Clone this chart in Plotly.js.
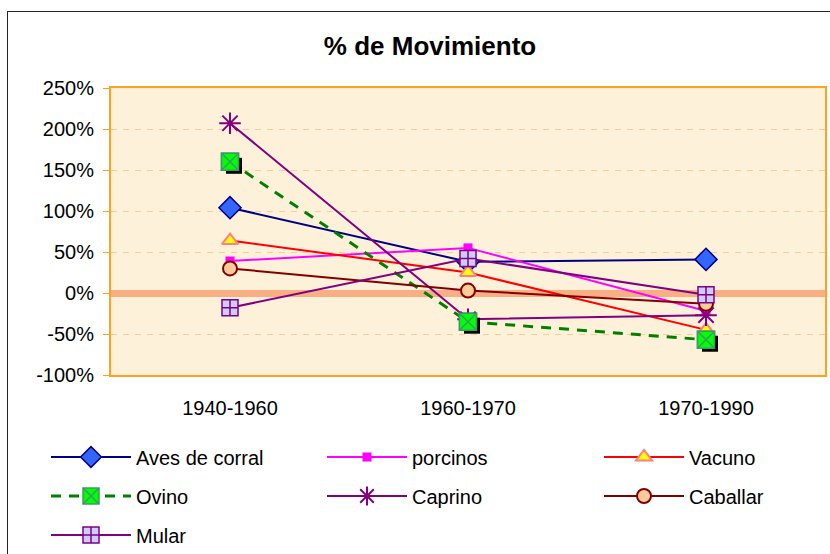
<!DOCTYPE html>
<html>
<head>
<meta charset="utf-8">
<script src="https://cdn.plot.ly/plotly-3.0.1.min.js"></script>
<style>
  html, body { margin: 0; padding: 0; background: #fff; }
  #wrap { position: relative; width: 830px; height: 554px; overflow: hidden; }
  #chart { position: absolute; left: 0; top: 0; width: 830px; height: 554px; }
  #frame { position: absolute; left: 7px; top: 11px; width: 900px; height: 600px;
           border-left: 1.5px solid #222; border-top: 1.5px solid #222; pointer-events: none; }
</style>
</head>
<body>
<div id="wrap"><div id="chart"></div><div id="frame"></div></div>
<script>
const categories = ["1940-1960", "1960-1970", "1970-1990"];
const aves     = [104, 38, 41];
const porcinos = [39, 55, -22];
const vacuno   = [64, 25, -45];
const ovino    = [160, -35, -57];
const caprino  = [207, -32, -27];
const caballar = [30, 3, -13];
const mular    = [-18, 42, -2];
const yTickVals = [-100, -50, 0, 50, 100, 150, 200, 250];
const yTickText = ["-100%", "-50%", "0%", "50%", "100%", "150%", "200%", "250%"];

const FONT = "Liberation Sans, Arial, sans-serif";

// pixel geometry of the plot area
const plotW = 714, plotH = 287.5;
const catPx = plotW / 3;
const pctPx = plotH / 350;
const shX = 4 / catPx, shY = 4 / pctPx;

function tr(name, y, opts, legend) {
  return Object.assign({
    type: 'scatter', mode: 'lines+markers', name: name, x: categories, y: y,
    legend: legend, cliponaxis: false
  }, opts);
}

const ovinoMarker = { symbol: 'square-x', size: 17, color: '#00FF00', line: { color: '#3C9A6A', width: 1.5 } };

const traces = [
  tr('Aves de corral', aves, {
    line: { color: '#000080', width: 2 },
    marker: { symbol: 'diamond', size: 17, color: '#3366FF', line: { color: '#000080', width: 1.5 } }
  }, 'legend'),
  tr('porcinos', porcinos, {
    line: { color: '#FF00FF', width: 2 },
    marker: { symbol: 'square', size: 9, color: '#FF00FF', line: { width: 0 } }
  }, 'legend2'),
  tr('Vacuno', vacuno, {
    line: { color: '#FF0000', width: 2 },
    marker: { symbol: 'triangle-up', size: 14, color: '#FFFF00', line: { color: '#FF8080', width: 2 } }
  }, 'legend3'),
  tr('Ovino', ovino, {
    line: { color: '#008000', width: 3, dash: '10px,8px' },
    marker: ovinoMarker
  }, 'legend4'),
  tr('Caprino', caprino, {
    line: { color: '#800080', width: 2 },
    marker: { symbol: 'asterisk-open', size: 18, color: '#800080', line: { color: '#800080', width: 2 } }
  }, 'legend5'),
  tr('Caballar', caballar, {
    line: { color: '#800000', width: 2 },
    marker: { symbol: 'circle', size: 14, color: '#FFCC99', line: { color: '#800000', width: 2 } }
  }, 'legend6'),
  tr('Mular', mular, {
    line: { color: '#800080', width: 2 },
    marker: { symbol: 'square-cross', size: 16, color: '#CCCCFF', line: { color: '#800080', width: 1.5 } }
  }, 'legend7'),
  // drop shadow of the Ovino squares: same data on an overlay axis pair offset 4px right/down
  { type: 'scatter', mode: 'markers', x: categories, y: ovino, xaxis: 'x2', yaxis: 'y2',
    showlegend: false, hoverinfo: 'skip', cliponaxis: false,
    marker: { symbol: 'square', size: 16, color: '#000000', line: { width: 0 } } },
  // Ovino squares again, above their shadow
  { type: 'scatter', mode: 'markers', x: categories, y: ovino, xaxis: 'x3', yaxis: 'y3',
    showlegend: false, hoverinfo: 'skip', cliponaxis: false, marker: ovinoMarker }
];

const colX = [46, 322, 599];
const rowY = [457, 496, 535];
function legendCfg(col, row) {
  return {
    orientation: 'h', xref: 'container', yref: 'container',
    x: colX[col] / 830, y: 1 - rowY[row] / 554, xanchor: 'left', yanchor: 'middle',
    itemwidth: 80,
    font: { family: FONT, size: 20, color: '#000' },
    bgcolor: 'rgba(0,0,0,0)', borderwidth: 0
  };
}

const layout = {
  width: 830, height: 554,
  margin: { l: 111, r: 5, t: 87.5, b: 179, pad: 0, autoexpand: false },
  paper_bgcolor: '#FFFFFF',
  plot_bgcolor: '#FDF1DA',
  font: { family: FONT, color: '#000' },
  title: { text: '<b>% de Movimiento</b>', font: { family: FONT, size: 26, color: '#000' },
           x: 430 / 830, xanchor: 'center', y: 1 - 46 / 554, yanchor: 'middle', xref: 'container', yref: 'container' },
  xaxis: {
    type: 'category', range: [-0.5, 2.5], showgrid: false, zeroline: false,
    showline: true, linecolor: '#FFA21F', linewidth: 2, mirror: true, tickangle: 0,
    ticks: '', tickfont: { family: FONT, size: 20, color: '#000' }, ticklabelstandoff: 14
  },
  yaxis: {
    range: [-100, 250], tickvals: yTickVals, ticktext: yTickText,
    showgrid: true, gridcolor: '#FFCC99', griddash: '6px,6px', gridwidth: 1,
    zeroline: true, zerolinecolor: '#FAAE84', zerolinewidth: 7,
    showline: true, linecolor: '#FFA21F', linewidth: 2, mirror: true,
    ticks: 'outside', ticklen: 6, tickcolor: '#FFA21F', tickwidth: 1,
    tickfont: { family: FONT, size: 20, color: '#000' }, ticklabelstandoff: 5
  },
  xaxis2: {
    type: 'category', overlaying: 'x', anchor: 'y2', visible: false,
    range: [-0.5 - shX, 2.5 - shX]
  },
  yaxis2: {
    overlaying: 'y', anchor: 'x2', visible: false,
    range: [-100 + shY, 250 + shY]
  },
  xaxis3: {
    type: 'category', overlaying: 'x', anchor: 'y3', visible: false,
    range: [-0.5, 2.5]
  },
  yaxis3: {
    overlaying: 'y', anchor: 'x3', visible: false,
    range: [-100, 250]
  },
  legend:  legendCfg(0, 0),
  legend2: legendCfg(1, 0),
  legend3: legendCfg(2, 0),
  legend4: legendCfg(0, 1),
  legend5: legendCfg(1, 1),
  legend6: legendCfg(2, 1),
  legend7: legendCfg(0, 2),
  showlegend: true
};

Plotly.newPlot('chart', traces, layout, { displayModeBar: false, staticPlot: true });
</script>
</body>
</html>
